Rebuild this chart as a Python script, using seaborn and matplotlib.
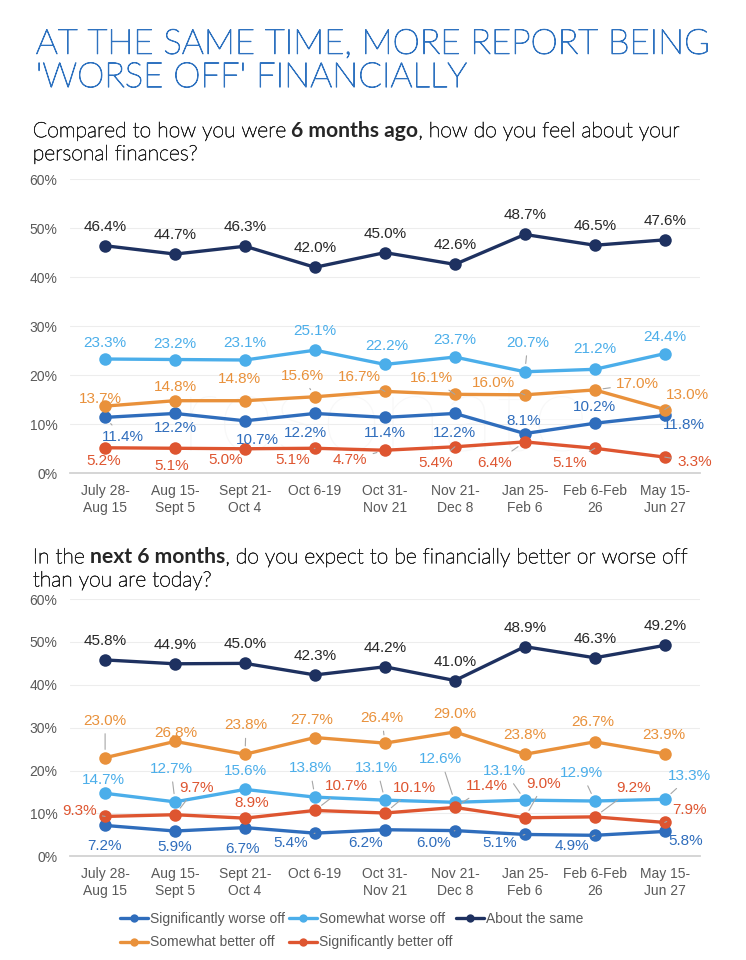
import numpy as np
import pandas as pd
import matplotlib
matplotlib.use("Agg")
import matplotlib.pyplot as plt
import matplotlib.patheffects as pe
from matplotlib.lines import Line2D
import seaborn as sns

# periods on the x axis
periods = ["July 28-\nAug 15", "Aug 15-\nSept 5", "Sept 21-\nOct 4", "Oct 6-19",
           "Oct 31-\nNov 21", "Nov 21-\nDec 8", "Jan 25-\nFeb 6", "Feb 6-Feb\n26",
           "May 15-\nJun 27"]
series_names = ["Significantly worse off", "Somewhat worse off", "About the same",
                "Somewhat better off", "Significantly better off"]

# compared to 6 months ago (%)
past_sig_worse = [11.4, 12.2, 10.7, 12.2, 11.4, 12.2, 8.1, 10.2, 11.8]
past_some_worse = [23.3, 23.2, 23.1, 25.1, 22.2, 23.7, 20.7, 21.2, 24.4]
past_same = [46.4, 44.7, 46.3, 42.0, 45.0, 42.6, 48.7, 46.5, 47.6]
past_some_better = [13.7, 14.8, 14.8, 15.6, 16.7, 16.1, 16.0, 17.0, 13.0]
past_sig_better = [5.2, 5.1, 5.0, 5.1, 4.7, 5.4, 6.4, 5.1, 3.3]

# next 6 months (%)
next_sig_worse = [7.2, 5.9, 6.7, 5.4, 6.2, 6.0, 5.1, 4.9, 5.8]
next_some_worse = [14.7, 12.7, 15.6, 13.8, 13.1, 12.6, 13.1, 12.9, 13.3]
next_same = [45.8, 44.9, 45.0, 42.3, 44.2, 41.0, 48.9, 46.3, 49.2]
next_some_better = [23.0, 26.8, 23.8, 27.7, 26.4, 29.0, 23.8, 26.7, 23.9]
next_sig_better = [9.3, 9.7, 8.9, 10.7, 10.1, 11.4, 9.0, 9.2, 7.9]

colors = ["#2F6DBC", "#4BAEEA", "#1E3160", "#E9913B", "#DE5530"]
label_colors = ["#2F6DBC", "#4BAEEA", "#262626", "#E9913B", "#DE5530"]

# label offsets in pixels (dx, dy) for each series, each period
past_offsets = [
    [(18, -20), (0, -15), (12, -19), (-10, -20), (0, -16), (0, -20), (-1, 13), (0, 16), (19, -10)],
    [(0, 16), (0, 16), (0, 17), (0, 19), (2, 18), (0, 17), (3, 29), (0, 20), (0, 17)],
    [(0, 19)] * 9,
    [(-5, 7), (0, 14), (-6, 22), (-13, 21), (-26, 14), (-23, 16), (-31, 12), (43, 6), (23, 15)],
    [(-1, -13), (-3, -18), (-19, -11), (-22, -12), (-35, -10), (-19, -16), (-30, -21), (-25, -15), (30, -5)],
]
next_offsets = [
    [(-1, -21), (0, -16), (-3, -21), (-24, -10), (-19, -13), (-21, -12), (-25, -9), (-23, -11), (21, -10)],
    [(-2, 13), (-4, 33), (0, 18), (-5, 29), (-8, 32), (-14, 43), (-20, 29), (-13, 28), (25, 23)],
    [(0, 19)] * 9,
    [(0, 37), (1, 8), (1, 29), (-3, 18), (-3, 25), (0, 18), (0, 19), (-2, 20), (-1, 19)],
    [(-26, 5), (21, 27), (7, 15), (31, 24), (30, 25), (32, 21), (19, 34), (39, 29), (25, 12)],
]

sns.set_theme(style="white")
plt.rcParams["font.family"] = ["Liberation Sans", "DejaVu Sans"]

fig = plt.figure(figsize=(7.46, 9.6), dpi=100)
ax1 = fig.add_axes([0.094, 0.507, 0.844, 0.3065])
ax2 = fig.add_axes([0.094, 0.108, 0.844, 0.268])


def make_df(values):
    rows = []
    for name, vals in zip(series_names, values):
        for p, v in zip(periods, vals):
            rows.append({"period": p, "series": name, "value": v})
    return pd.DataFrame(rows)


def draw(ax, values, offsets):
    df = make_df(values)
    sns.lineplot(data=df, x="period", y="value", hue="series", hue_order=series_names,
                 palette=colors, marker="o", markersize=9, markeredgewidth=0,
                 linewidth=2.4, ax=ax, legend=False, sort=False)
    for i, (vals, offs) in enumerate(zip(values, offsets)):
        for j, (v, (dx, dy)) in enumerate(zip(vals, offs)):
            props = None
            if np.hypot(dx, dy) > 24:
                props = dict(arrowstyle="-", color="#A6A6A6", lw=0.8, shrinkA=2, shrinkB=6)
            ax.annotate(f"{v:.1f}%", xy=(j, v), xytext=(dx, dy), textcoords="offset pixels",
                        ha="center", va="center", fontsize=11, color=label_colors[i],
                        arrowprops=props, zorder=5)
    ax.set_xlim(-0.5, 8.5)
    ax.set_ylim(0, 60)
    ax.set_yticks(range(0, 61, 10))
    ax.set_yticklabels([f"{t}%" for t in range(0, 61, 10)])
    ax.set_xlabel("")
    ax.set_ylabel("")
    ax.grid(axis="y", color="#EDEDED", linewidth=0.8)
    ax.set_axisbelow(True)
    for s in ["top", "right", "left"]:
        ax.spines[s].set_visible(False)
    ax.spines["bottom"].set_color("#D0D0D0")
    ax.tick_params(axis="both", length=0, labelsize=10, colors="#595959")
    ax.tick_params(axis="y", pad=9)
    ax.tick_params(axis="x", pad=8)


draw(ax1, [past_sig_worse, past_some_worse, past_same, past_some_better, past_sig_better],
     past_offsets)
draw(ax2, [next_sig_worse, next_some_worse, next_same, next_some_better, next_sig_better],
     next_offsets)

# faint watermark
ax1.text(4.0, 0.5, "resonate", ha="center", va="bottom", fontsize=80, color="#F8F8F8",
         family="Lato", fontweight="light", zorder=0)

# title (light font, slightly thickened)
fig.text(0.048, 0.903, "AT THE SAME TIME, MORE REPORT BEING\n'WORSE OFF' FINANCIALLY",
         fontsize=25, color="#2E72C0", family="Lato", fontweight="light",
         va="bottom", linespacing=1.05,
         path_effects=[pe.withStroke(linewidth=0.7, foreground="#2E72C0")])


def rich_line(x, y, parts, size=15.2):
    prev = None
    for txt, weight, gap in parts:
        fx = []
        if weight == "light":
            fx = [pe.withStroke(linewidth=0.45, foreground="#262626")]
        if prev is None:
            prev = ax1.annotate(txt, xy=(x, y), xycoords="figure fraction", ha="left",
                                va="bottom", fontsize=size, fontweight=weight,
                                color="#262626", family="Lato", annotation_clip=False,
                                path_effects=fx)
        else:
            prev = ax1.annotate(txt, xy=(1, 0), xycoords=prev, xytext=(gap, 0),
                                textcoords="offset pixels", ha="left", va="bottom",
                                fontsize=size, fontweight=weight, color="#262626",
                                family="Lato", annotation_clip=False, path_effects=fx)


rich_line(0.044, 0.853, [("Compared to how you were", "light", 0),
                         ("6 months ago", "bold", 5),
                         (", how do you feel about your", "light", 0)])
rich_line(0.044, 0.829, [("personal finances?", "light", 0)])
rich_line(0.044, 0.409, [("In the", "light", 0),
                         ("next 6 months", "bold", 5),
                         (", do you expect to be financially better or worse off", "light", 0)])
rich_line(0.044, 0.385, [("than you are today?", "light", 0)])

# legend, row-wise order
h = [Line2D([0], [0], color=c, lw=2.4, marker="o", markersize=6, markeredgewidth=0)
     for c in colors]
order = [0, 3, 1, 4, 2]
fig.legend([h[i] for i in order], [series_names[i] for i in order], ncol=3,
           loc="lower left", bbox_to_anchor=(0.144, -0.002), frameon=False, fontsize=10,
           handlelength=2.0, handletextpad=0.15, columnspacing=0.3, labelspacing=0.7,
           labelcolor="#595959")

fig.savefig("out.png", dpi=100)
